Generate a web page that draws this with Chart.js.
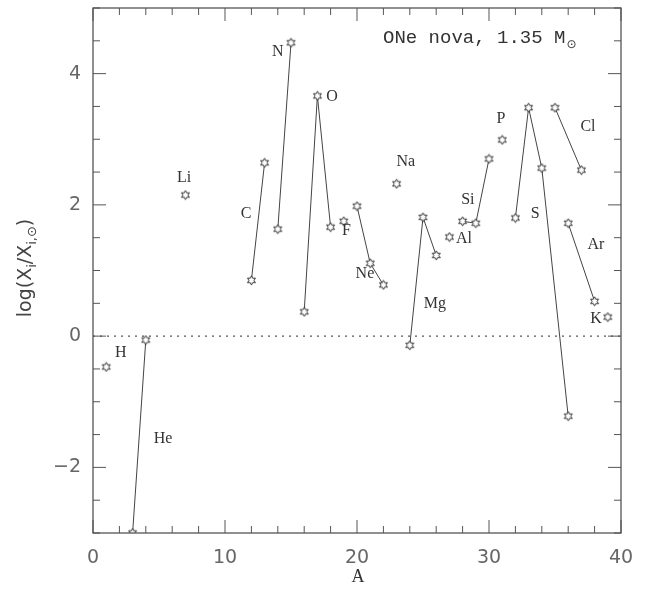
<!DOCTYPE html>
<html>
<head>
<meta charset="utf-8">
<script src="https://cdn.jsdelivr.net/npm/chart.js@4.4.1/dist/chart.umd.min.js"></script>
<style>
  body { margin: 0; background: #fff; }
</style>
</head>
<body>
<canvas id="novaChart" width="647" height="590"></canvas>
<script>
// Elements and their isotopes (mass number A) with log(X_i/X_i,sun)
const elements = ['H', 'He', 'Li', 'C', 'N', 'O', 'F', 'Ne', 'Na', 'Mg', 'Al', 'Si', 'P', 'S', 'Cl', 'Ar', 'K'];
const massNumbers = [[1], [3, 4], [7], [12, 13], [14, 15], [16, 17, 18], [19], [20, 21, 22], [23],
    [24, 25, 26], [27], [28, 29, 30], [31], [32, 33, 34, 36], [35, 37], [36, 38], [39]];
const logAbundance = [[-0.47], [-3.0, -0.06], [2.15], [0.85, 2.64], [1.63, 4.47], [0.37, 3.66, 1.66], [1.75],
    [1.98, 1.11, 0.78], [2.32], [-0.14, 1.81, 1.23], [1.51], [1.75, 1.72, 2.70], [2.99],
    [1.80, 3.48, 2.56, -1.22], [3.48, 2.53], [1.72, 0.53], [0.29]];
const xTicks = [0, 10, 20, 30, 40];
const yTicks = [-2, 0, 2, 4];

// where each element name is written (in data units)
const labelAnchors = {
    H: [2.1, -0.26], He: [5.3, -1.57], Li: [6.9, 2.42], C: [11.6, 1.87], N: [14.0, 4.34],
    O: [18.1, 3.64], F: [19.2, 1.6], Ne: [20.6, 0.95], Na: [23.7, 2.65], Mg: [25.9, 0.49],
    Al: [28.1, 1.48], Si: [28.4, 2.07], P: [30.9, 3.31], S: [33.5, 1.86], Cl: [37.5, 3.19],
    Ar: [38.1, 1.39], K: [38.1, 0.26]
};

// small hollow six-pointed star used as marker
function makeStar() {
    const c = document.createElement('canvas');
    c.width = 11; c.height = 11;
    const g = c.getContext('2d');
    g.beginPath();
    for (let i = 0; i < 12; i++) {
        const r = i % 2 === 0 ? 4.6 : 2.5;
        const a = -Math.PI / 2 + i * Math.PI / 6;
        const px = 5.5 + r * Math.cos(a), py = 5.5 + r * Math.sin(a);
        if (i === 0) g.moveTo(px, py); else g.lineTo(px, py);
    }
    g.closePath();
    g.fillStyle = '#fff';
    g.fill();
    g.strokeStyle = '#333';
    g.lineWidth = 1;
    g.stroke();
    return c;
}
const star = makeStar();

const datasets = elements.map((el, i) => ({
    label: el,
    data: massNumbers[i].map((a, j) => ({ x: a, y: logAbundance[i][j] })),
    showLine: true,
    borderColor: '#444',
    borderWidth: 1,
    pointStyle: star,
    pointRadius: 5
}));

// solar value reference line
datasets.push({
    label: 'solar',
    data: [{ x: 0, y: 0 }, { x: 40, y: 0 }],
    showLine: true,
    borderColor: '#555',
    borderWidth: 1.3,
    borderDash: [2, 5],
    pointRadius: 0
});

const decorPlugin = {
    id: 'decor',
    afterDraw(chart) {
        const ctx = chart.ctx;
        const { left, right, top, bottom } = chart.chartArea;
        const xs = chart.scales.x, ys = chart.scales.y;
        ctx.save();
        ctx.strokeStyle = '#555';
        ctx.lineWidth = 1.3;
        ctx.strokeRect(left, top, right - left, bottom - top);

        // inward ticks on all four sides
        ctx.beginPath();
        xs.ticks.forEach(t => {
            const px = xs.getPixelForValue(t.value);
            const len = xTicks.includes(t.value) ? 13 : 7;
            ctx.moveTo(px, bottom); ctx.lineTo(px, bottom - len);
            ctx.moveTo(px, top); ctx.lineTo(px, top + len);
        });
        ys.ticks.forEach(t => {
            const py = ys.getPixelForValue(t.value);
            const len = yTicks.includes(t.value) ? 13 : 7;
            ctx.moveTo(left, py); ctx.lineTo(left + len, py);
            ctx.moveTo(right, py); ctx.lineTo(right - len, py);
        });
        ctx.lineWidth = 1;
        ctx.stroke();

        // element names
        ctx.fillStyle = '#333';
        ctx.font = '16px "Liberation Serif", serif';
        ctx.textAlign = 'center';
        ctx.textBaseline = 'middle';
        elements.forEach(el => {
            const [a, v] = labelAnchors[el];
            ctx.fillText(el, xs.getPixelForValue(a), ys.getPixelForValue(v));
        });

        // title inside plot
        ctx.textAlign = 'left';
        ctx.textBaseline = 'alphabetic';
        ctx.font = '19px "Liberation Mono", monospace';
        const title = 'ONe nova, 1.35 M';
        ctx.fillText(title, 383, 43);
        const tw = ctx.measureText(title).width;
        ctx.font = '12px "DejaVu Sans", sans-serif';
        ctx.fillText('\u2299', 383 + tw + 1, 48);

        // x axis title
        ctx.font = '18px "Liberation Serif", serif';
        ctx.textAlign = 'center';
        ctx.fillText('A', 358, 582);

        // y axis title, rotated, with subscripts
        ctx.fillStyle = '#444';
        const parts = [['log(X', 19, 0], ['i', 13, 5], ['/X', 19, 0], ['i,\u2299', 13, 5], [')', 19, 0]];
        let total = 0;
        parts.forEach(p => {
            ctx.font = p[1] + 'px "DejaVu Sans", sans-serif';
            total += ctx.measureText(p[0]).width;
        });
        ctx.translate(31, 268);
        ctx.rotate(-Math.PI / 2);
        ctx.textAlign = 'left';
        let cx = -total / 2;
        parts.forEach(p => {
            ctx.font = p[1] + 'px "DejaVu Sans", sans-serif';
            ctx.fillText(p[0], cx, p[2]);
            cx += ctx.measureText(p[0]).width;
        });
        ctx.restore();
    }
};

const tickFont = { family: '"DejaVu Sans", sans-serif', size: 19 };

new Chart(document.getElementById('novaChart').getContext('2d'), {
    type: 'scatter',
    data: { datasets: datasets },
    options: {
        responsive: false,
        animation: false,
        layout: { padding: { top: 8, right: 26, left: 0, bottom: 0 } },
        plugins: {
            legend: { display: false },
            tooltip: { enabled: false }
        },
        scales: {
            x: {
                type: 'linear',
                min: 0,
                max: 40,
                grid: { display: false, drawTicks: false },
                border: { display: false },
                afterFit(scale) { scale.height = 57; scale.paddingLeft = 0; scale.paddingRight = 0; },
                ticks: {
                    stepSize: 2,
                    autoSkip: false,
                    maxRotation: 0,
                    padding: 14,
                    color: '#666',
                    font: tickFont,
                    callback: v => xTicks.includes(v) ? String(v) : ''
                }
            },
            y: {
                type: 'linear',
                min: -3,
                max: 5,
                grid: { display: false, drawTicks: false },
                border: { display: false },
                afterFit(scale) { scale.width = 93; scale.paddingTop = 0; scale.paddingBottom = 0; },
                ticks: {
                    stepSize: 0.5,
                    autoSkip: false,
                    padding: 12,
                    color: '#666',
                    font: tickFont,
                    callback: v => yTicks.includes(v) ? (v < 0 ? '\u2212' + (-v) : String(v)) : ''
                }
            }
        }
    },
    plugins: [decorPlugin]
});
</script>
</body>
</html>
